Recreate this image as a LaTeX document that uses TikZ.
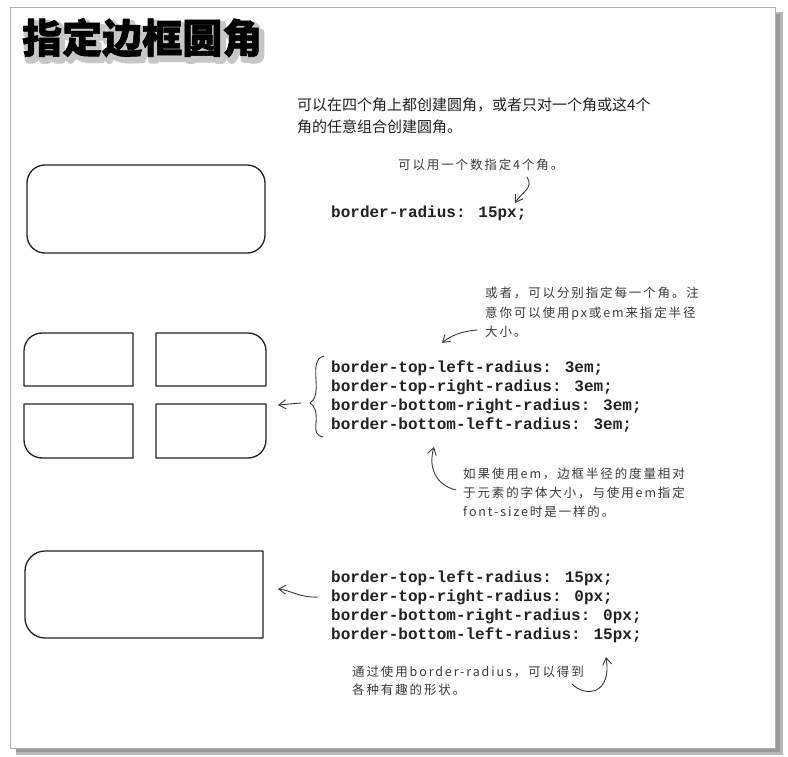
\documentclass[tikz,border=0pt]{standalone}
\usepackage{fontspec}
\setmainfont{Liberation Sans}
\newfontfamily\cjk{Noto Sans CJK SC}
\newfontfamily\hand{Noto Sans CJK SC}[LetterSpace=15]
\newfontfamily\codefont{Liberation Mono}
\usetikzlibrary{arrows.meta}
\definecolor{ink}{HTML}{222222}
\definecolor{pencil}{HTML}{3A3A3A}
\begin{document}
\begin{tikzpicture}[x=1pt,y=-1pt,
  code/.style={anchor=base west,inner sep=0pt,font=\codefont\bfseries\fontsize{16}{16}\selectfont,text=ink},
  body/.style={anchor=base west,inner sep=0pt,font=\cjk\fontsize{15}{15}\selectfont,text=ink},
  note/.style={anchor=base west,inner sep=0pt,font=\hand\fontsize{12.5}{12.5}\selectfont,text=pencil},
  titlefont/.style={anchor=base west,inner sep=0pt,font=\cjk\bfseries\fontsize{40}{40}\selectfont},
  boxline/.style={draw=ink,line width=1.3pt,line join=round},
  harrow/.style={draw=pencil,line width=0.9pt,line cap=round,-{Straight Barb[length=7pt,width=9pt,line width=0.9pt]}},
]
\useasboundingbox (0,0) rectangle (788,757);
% page
\fill[white] (0,0) rectangle (788,757);
\fill[gray!55] (775,12) rectangle (783,755);
\fill[gray!55] (16,748) rectangle (783,755);
\fill[gray!80] (775,14) rectangle (780,752);
\fill[gray!80] (16,748) rectangle (780,752);
\draw[gray!60,line width=0.6pt] (10,7) rectangle (775,748);
% title with soft shadow
\node[titlefont,text=black!22] (titleshadow) at (25,57) {\special{pdf:code 2 Tr 6 w 1 j}指定边框圆角};
\node[titlefont,text=black] (title) at (22,53) {\special{pdf:code 2 Tr 0.6 w 1 j}指定边框圆角};
% intro text
\node[body] (intro1) at (297,111) {可以在四个角上都创建圆角，或者只对一个角或这4个};
\node[body] (intro2) at (297,133) {角的任意组合创建圆角。};
% section 1
\node[note] (n1) at (398,170) {可以用一个数指定4个角。};
\node[code] (c1) at (331,218) {border-radius: 15px;};
\draw[boxline,rounded corners=18pt] (27,165) rectangle (265,253);
\coordinate (a1s) at (527,177);
\coordinate (a1e) at (515,203);
\draw[harrow] (a1s) .. controls (534,188) and (522,192) .. (a1e);
% section 2: four boxes
\draw[boxline] (133,333) -- (42,333) .. controls (32,333) and (24,341) .. (24,351) -- (24,386) -- (133,386) -- cycle;
\draw[boxline] (156,333) -- (248,333) .. controls (258,333) and (266,341) .. (266,351) -- (266,386) -- (156,386) -- cycle;
\draw[boxline] (133,404) -- (24,404) -- (24,440) .. controls (24,450) and (32,458) .. (42,458) -- (133,458) -- cycle;
\draw[boxline] (156,404) -- (266,404) -- (266,440) .. controls (266,450) and (258,458) .. (248,458) -- (156,458) -- cycle;
\node[note] (n2a) at (485,298) {或者，可以分别指定每一个角。注};
\node[note] (n2b) at (485,317) {意你可以使用px或em来指定半径};
\node[note] (n2c) at (485,336) {大小。};
\coordinate (a2s) at (477,330);
\coordinate (a2e) at (442,343);
\draw[harrow] (a2s) .. controls (462,331) and (450,336) .. (a2e);
\node[code] (c2a) at (331,372) {border-top-left-radius: 3em;};
\node[code] (c2b) at (331,391) {border-top-right-radius: 3em;};
\node[code] (c2c) at (331,410) {border-bottom-right-radius: 3em;};
\node[code] (c2d) at (331,429) {border-bottom-left-radius: 3em;};
\draw[pencil,line width=0.9pt,line cap=round] (324,356) .. controls (316,358) and (315,366) .. (316,380) .. controls (317,393) and (315,400) .. (310,403) .. controls (315,406) and (317,412) .. (316,424) .. controls (315,432) and (317,436) .. (323,437);
\coordinate (a3s) at (301,403);
\coordinate (a3e) at (278,405);
\draw[harrow] (a3s) -- (a3e);
\node[note] (n3a) at (463,478) {如果使用em，边框半径的度量相对};
\node[note] (n3b) at (463,497) {于元素的字体大小，与使用em指定};
\node[note] (n3c) at (463,516) {font-size时是一样的。};
\coordinate (a4s) at (456,490);
\coordinate (a4e) at (434,447);
\draw[harrow] (a4s) .. controls (436,485) and (428,468) .. (a4e);
% section 3
\draw[boxline] (263,551) -- (45,551) .. controls (34,551) and (25,560) .. (25,571) -- (25,618) .. controls (25,629) and (34,638) .. (45,638) -- (263,638) -- cycle;
\node[code] (c3a) at (331,582) {border-top-left-radius: 15px;};
\node[code] (c3b) at (331,601) {border-top-right-radius: 0px;};
\node[code] (c3c) at (331,620) {border-bottom-right-radius: 0px;};
\node[code] (c3d) at (331,639) {border-bottom-left-radius: 15px;};
\coordinate (a5s) at (318,597);
\coordinate (a5e) at (278,589);
\draw[harrow] (a5s) .. controls (300,598) and (290,590) .. (a5e);
\node[note] (n4a) at (352,676) {通过使用border-radius，可以得到};
\node[note] (n4b) at (352,694) {各种有趣的形状。};
\coordinate (a6s) at (572,684);
\coordinate (a6e) at (606,657);
\draw[harrow] (a6s) .. controls (586,698) and (612,694) .. (a6e);
\end{tikzpicture}
\end{document}
